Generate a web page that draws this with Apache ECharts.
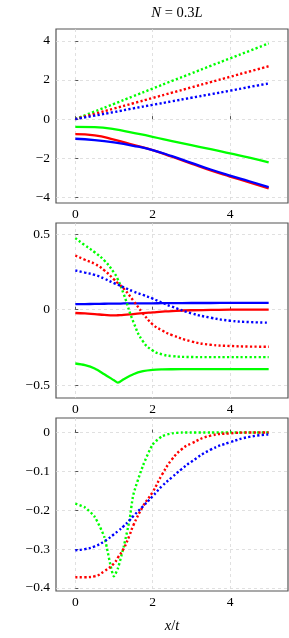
<!DOCTYPE html>
<html>
<head>
<meta charset="utf-8">
<script src="https://cdn.jsdelivr.net/npm/echarts@6/dist/echarts.min.js"></script>
<style>
html,body{margin:0;padding:0;background:#fff;}
#c{width:289px;height:638px;}
</style>
</head>
<body>
<div id="c"></div>
<script>
// ---------- data ----------
const xTicks = [0, 2, 4];

// Panel 1
const x1 = [0, 0.5, 1, 1.5, 2, 2.5, 3, 3.5, 4, 4.5, 5];
const p1GreenSolid = [-0.39, -0.41, -0.51, -0.70, -0.90, -1.12, -1.33, -1.53, -1.75, -1.97, -2.21];
const p1RedSolid   = [-0.77, -0.83, -1.04, -1.31, -1.58, -1.92, -2.27, -2.62, -2.93, -3.23, -3.53];
const p1BlueSolid  = [-1.00, -1.07, -1.19, -1.36, -1.58, -1.89, -2.23, -2.57, -2.88, -3.17, -3.47];
const p1GreenDot   = [0, 0.39, 0.78, 1.17, 1.56, 1.95, 2.33, 2.72, 3.10, 3.48, 3.87];
const p1RedDot     = [0, 0.27, 0.54, 0.81, 1.08, 1.35, 1.62, 1.89, 2.16, 2.43, 2.70];
const p1BlueDot    = [0, 0.18, 0.36, 0.55, 0.73, 0.91, 1.09, 1.27, 1.45, 1.64, 1.82];
const y1Ticks = [-4, -2, 0, 2, 4];

// Panel 2
const x2 = [0, 0.25, 0.5, 0.75, 1, 1.1, 1.25, 1.5, 1.75, 2, 2.25, 2.5, 3, 3.5, 4, 4.5, 5];
const p2GreenDot   = [0.473, 0.425, 0.380, 0.325, 0.245, 0.200, 0.104, -0.080, -0.210, -0.270, -0.296, -0.307, -0.313, -0.314, -0.314, -0.314, -0.314];
const p2RedDot     = [0.358, 0.330, 0.303, 0.260, 0.200, 0.175, 0.140, 0.060, -0.025, -0.097, -0.138, -0.168, -0.210, -0.232, -0.240, -0.244, -0.245];
const p2BlueDot    = [0.259, 0.245, 0.230, 0.205, 0.175, 0.165, 0.148, 0.120, 0.097, 0.073, 0.046, 0.020, -0.024, -0.053, -0.073, -0.082, -0.086];
const p2BlueSolid  = [0.036, 0.037, 0.038, 0.039, 0.040, 0.040, 0.041, 0.041, 0.042, 0.042, 0.043, 0.043, 0.044, 0.044, 0.045, 0.045, 0.045];
const p2RedSolid   = [-0.022, -0.025, -0.029, -0.035, -0.038, -0.037, -0.035, -0.029, -0.023, -0.018, -0.013, -0.009, -0.004, -0.002, 0, 0, 0];
const p2GreenSolid = [-0.356, -0.367, -0.389, -0.427, -0.467, -0.483, -0.460, -0.427, -0.407, -0.398, -0.395, -0.394, -0.393, -0.393, -0.393, -0.393, -0.393];
const y2Ticks = [-0.5, 0, 0.5];

// Panel 3
const x3 = [0, 0.25, 0.5, 0.75, 1, 1.1, 1.25, 1.4, 1.5, 1.75, 2, 2.25, 2.5, 2.75, 3, 3.5, 4, 4.5, 5];
const p3GreenDot = [-0.183, -0.193, -0.217, -0.269, -0.370, -0.350, -0.294, -0.226, -0.160, -0.085, -0.031, -0.009, -0.002, 0, 0, 0, 0, 0, 0];
const p3RedDot   = [-0.3725, -0.3725, -0.370, -0.357, -0.337, -0.322, -0.299, -0.265, -0.239, -0.190, -0.153, -0.107, -0.069, -0.043, -0.028, -0.008, -0.002, 0, 0];
const p3BlueDot  = [-0.303, -0.300, -0.293, -0.280, -0.262, -0.254, -0.241, -0.226, -0.215, -0.190, -0.164, -0.137, -0.115, -0.094, -0.075, -0.044, -0.025, -0.011, -0.005];
const y3Ticks = [-0.4, -0.3, -0.2, -0.1, 0];

// ---------- chart ----------
const GREEN = '#00ff00', RED = '#ff0000', BLUE = '#0000ff';
const FONT = 'Liberation Serif';
const zip = (xs, ys) => xs.map((x, i) => [x, ys[i]]);
const minus = v => String(v).replace('-', '\u2212');

function solid(name, xi, yi, xs, ys, color, smooth) {
  return { name, type: 'line', xAxisIndex: xi, yAxisIndex: yi, data: zip(xs, ys),
    showSymbol: false, smooth: smooth === undefined ? true : smooth, animation: false,
    lineStyle: { color, width: 2.3 } };
}
function dotted(name, xi, yi, xs, ys, color, smooth) {
  return { name, type: 'line', xAxisIndex: xi, yAxisIndex: yi, data: zip(xs, ys),
    showSymbol: false, smooth: smooth === undefined ? true : smooth, animation: false,
    lineStyle: { color, width: 2.4, type: [2.2, 2.3], cap: 'butt' } };
}

const gridStyle = { show: true, borderColor: '#555', borderWidth: 1.2, backgroundColor: 'transparent' };
const grids = [
  Object.assign({ left: 56, right: 1, top: 29, height: 174 }, gridStyle),
  Object.assign({ left: 56, right: 1, top: 223, height: 175 }, gridStyle),
  Object.assign({ left: 56, right: 1, top: 418, height: 173 }, gridStyle)
];

function xAxis(gi, extra) {
  return Object.assign({
    type: 'value', gridIndex: gi, min: -0.5, max: 5.5,
    axisLine: { show: false },
    axisTick: { show: true, inside: true, length: 3, customValues: xTicks, lineStyle: { color: '#555' } },
    axisLabel: { customValues: xTicks, formatter: minus, fontFamily: FONT, fontSize: 13.5, color: '#000', margin: 4 },
    splitLine: { show: true, lineStyle: { color: '#d8d8d8', type: [3, 3], width: 0.8 } }
  }, extra || {});
}
function yAxis(gi, min, max, ticks) {
  return {
    type: 'value', gridIndex: gi, min, max,
    axisLine: { show: false },
    axisTick: { show: true, inside: true, length: 3, customValues: ticks, lineStyle: { color: '#555' } },
    axisLabel: { customValues: ticks, formatter: minus, fontFamily: FONT, fontSize: 13.5, color: '#000', margin: 6 },
    splitLine: { show: true, lineStyle: { color: '#d8d8d8', type: [3, 3], width: 0.8 } }
  };
}

const option = {
  backgroundColor: '#fff',
  animation: false,
  title: {
    text: '{i|N} = 0.3{i|L}',
    left: 172, top: 1, textAlign: 'center',
    textStyle: { fontFamily: FONT, fontSize: 14.5, fontWeight: 'normal', color: '#000',
      rich: { i: { fontFamily: FONT, fontSize: 14.5, fontStyle: 'italic', color: '#000' } } }
  },
  grid: grids,
  xAxis: [
    xAxis(0), xAxis(1),
    xAxis(2, { name: '{i|x}/{i|t}', nameLocation: 'middle', nameGap: 28,
      nameTextStyle: { fontFamily: FONT, fontSize: 14.5, color: '#000',
        rich: { i: { fontFamily: FONT, fontSize: 14.5, fontStyle: 'italic', color: '#000' } } } })
  ],
  yAxis: [
    yAxis(0, -4.28, 4.6, y1Ticks),
    yAxis(1, -0.584, 0.573, y2Ticks),
    yAxis(2, -0.408, 0.0375, y3Ticks)
  ],
  series: [
    solid('p1g', 0, 0, x1, p1GreenSolid, GREEN),
    solid('p1r', 0, 0, x1, p1RedSolid, RED),
    solid('p1b', 0, 0, x1, p1BlueSolid, BLUE),
    dotted('p1gd', 0, 0, x1, p1GreenDot, GREEN),
    dotted('p1rd', 0, 0, x1, p1RedDot, RED),
    dotted('p1bd', 0, 0, x1, p1BlueDot, BLUE),

    solid('p2b', 1, 1, x2, p2BlueSolid, BLUE),
    solid('p2r', 1, 1, x2, p2RedSolid, RED),
    solid('p2g', 1, 1, x2, p2GreenSolid, GREEN, 0.3),
    dotted('p2gd', 1, 1, x2, p2GreenDot, GREEN),
    dotted('p2rd', 1, 1, x2, p2RedDot, RED),
    dotted('p2bd', 1, 1, x2, p2BlueDot, BLUE),

    dotted('p3gd', 2, 2, x3, p3GreenDot, GREEN, 0.2),
    dotted('p3rd', 2, 2, x3, p3RedDot, RED),
    dotted('p3bd', 2, 2, x3, p3BlueDot, BLUE)
  ]
};

const chart = echarts.init(document.getElementById('c'), null, { renderer: 'canvas' });
chart.setOption(option);
</script>
</body>
</html>
